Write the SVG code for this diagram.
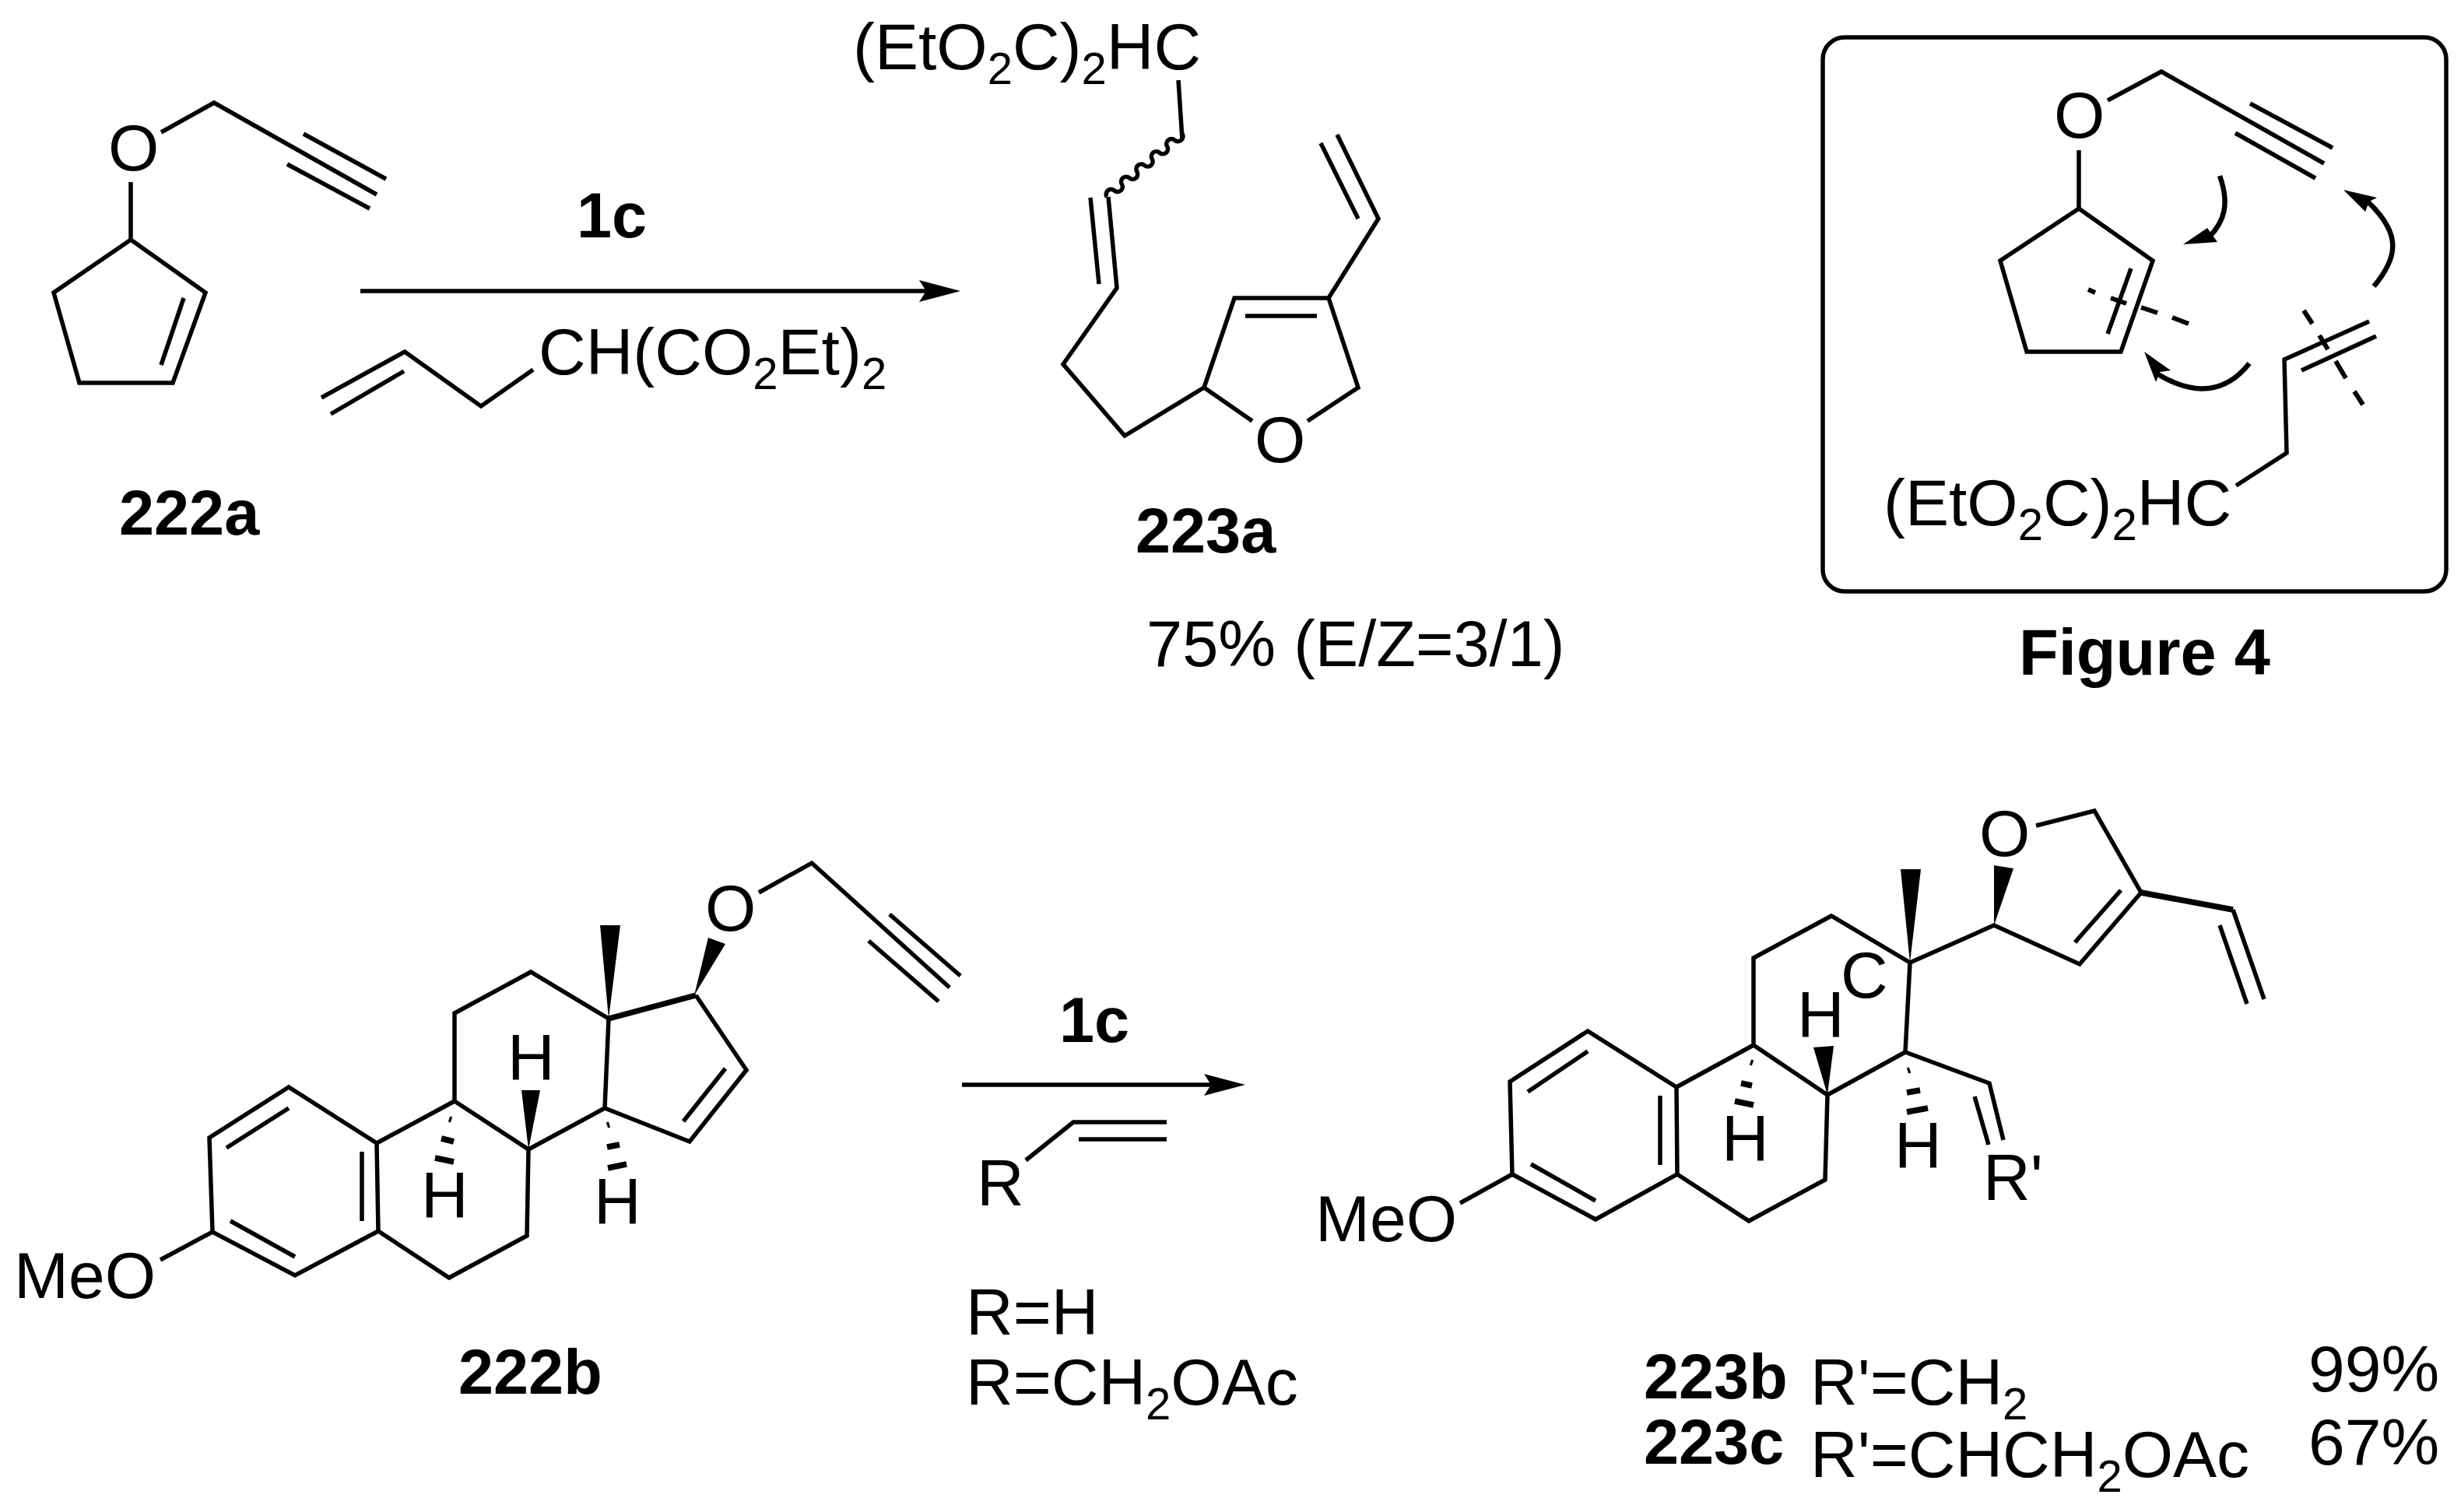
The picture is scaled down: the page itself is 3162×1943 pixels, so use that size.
<svg xmlns="http://www.w3.org/2000/svg" width="3162" height="1943" viewBox="0 0 3162 1943">
<style>
text{font-family:"Liberation Sans",Arial,sans-serif;font-size:84px;fill:#000}
.l{font-weight:bold;font-size:81px}
.fig{font-size:83px}
.s{font-size:58px}
path,line,polyline,polygon{stroke:#000;stroke-width:5.5;fill:none;stroke-miterlimit:10}
.f{fill:#000;stroke:none}
.h{stroke-width:6}
.k{stroke-width:7.5}
.c{stroke-width:6.5}
</style>
<defs>
<marker id="ah" markerUnits="userSpaceOnUse" markerWidth="60" markerHeight="32" refX="9" refY="16" orient="auto"><path class="f" d="M0 2L53 16L0 30L9 16z"/></marker>
</defs>
<rect width="3162" height="1943" fill="#fff"/>

<g id="connectors">
<line x1="463" y1="374" x2="1190" y2="374" marker-end="url(#ah)"/>
<line x1="1236" y1="1394" x2="1556" y2="1394" marker-end="url(#ah)"/>
<path class="c" d="M2852 226C2865 262 2858 285 2838 305"/>
<polygon class="f" points="2805,314 2836,293 2849,311"/>
<path class="c" d="M2890 467C2860 505 2820 510 2771 480"/>
<polygon class="f" points="2755,452 2770,491 2775,478 2789,476"/>
<path class="c" d="M3050 368C3082 330 3085 300 3043 260"/>
<polygon class="f" points="3011,244 3054,254 3044,259 3039,272"/>
</g>

<g id="m222a">
<text x="139" y="219">O</text>
<polyline points="207,170 275,132 484,250"/>
<line x1="390" y1="172" x2="496" y2="230"/>
<line x1="369" y1="211" x2="475" y2="268"/>
<line x1="168" y1="234" x2="168" y2="308"/>
<polygon points="168,308 264,376 222,492 102,492 69,376"/>
<line x1="236" y1="383" x2="207" y2="469"/>
<text class="l" x="153" y="687">222a</text>
</g>

<g id="reagent-1c-a"><text class="l" x="741" y="305">1c</text></g>

<g id="reagent-allyl">
<polyline points="413,511 520,452 618,522 685,475"/>
<line x1="425" y1="532" x2="519" y2="477"/>
<text x="692" y="481">CH(CO<tspan class="s" dy="19">2</tspan><tspan dy="-19">Et)</tspan><tspan class="s" dy="19">2</tspan></text>
</g>

<g id="m223a">
<text x="1096" y="89">(EtO<tspan class="s" dy="19">2</tspan><tspan dy="-19">C)</tspan><tspan class="s" dy="19">2</tspan><tspan dy="-19">HC</tspan></text>
<line x1="1514" y1="103" x2="1519" y2="179"/>
<path d="M1519 172a6.4 6.4 0 0 1 -9.7 8.1a6.4 6.4 0 0 0 -9.7 8.1a6.4 6.4 0 0 1 -9.7 8.1a6.4 6.4 0 0 0 -9.7 8.1a6.4 6.4 0 0 1 -9.7 8.1a6.4 6.4 0 0 0 -9.7 8.1a6.4 6.4 0 0 1 -9.7 8.1a6.4 6.4 0 0 0 -9.7 8.1a6.4 6.4 0 0 1 -9.7 8.1a6.4 6.4 0 0 0 -9.7 8.1"/>
<polyline points="1424,253 1435,370 1366,468 1445,560 1547,498 1609,541"/>
<line x1="1401" y1="254" x2="1412" y2="365"/>
<polyline points="1547,498 1586,383 1707,383 1745,498 1680,541"/>
<line x1="1600" y1="406" x2="1692" y2="406"/>
<polyline points="1707,383 1771,281 1718,173"/>
<line x1="1745" y1="281" x2="1697" y2="184"/>
<text x="1612" y="594">O</text>
<text class="l" x="1459" y="710">223a</text>
<text x="1473" y="856" style="font-size:83px">75% (E/Z=3/1)</text>
</g>

<g id="figure4">
<rect x="2342" y="48" width="801" height="712" rx="28" ry="28" fill="none" stroke="#000" stroke-width="5.5"/>
<text x="2639" y="177">O</text>
<polyline points="2708,129 2777,92 2986,210"/>
<line x1="2891" y1="133" x2="2997" y2="190"/>
<line x1="2872" y1="171" x2="2975" y2="229"/>
<line x1="2671" y1="193" x2="2671" y2="268"/>
<polygon points="2671,268 2766,335 2725,452 2604,452 2570,335"/>
<line x1="2738" y1="345" x2="2708" y2="429"/>
<line class="h" x1="2683" y1="372" x2="2692" y2="376"/>
<line class="h" x1="2712" y1="383" x2="2732" y2="390"/>
<line class="h" x1="2751" y1="395" x2="2772" y2="402"/>
<line class="h" x1="2791" y1="408" x2="2812" y2="416"/>
<polyline points="3044,413 2935,462 2938,582 2873,624"/>
<line x1="2957" y1="476" x2="3053" y2="432"/>
<line class="h" x1="2960" y1="399" x2="2971" y2="416"/>
<line class="h" x1="2980" y1="431" x2="2991" y2="449"/>
<line class="h" x1="3001" y1="464" x2="3014" y2="486"/>
<line class="h" x1="3025" y1="503" x2="3036" y2="520"/>
<text x="2420" y="675">(EtO<tspan class="s" dy="19">2</tspan><tspan dy="-19">C)</tspan><tspan class="s" dy="19">2</tspan><tspan dy="-19">HC</tspan></text>
<text class="l fig" x="2594" y="867">Figure 4</text>
</g>

<g id="m222b">
<polyline points="206,1619 273,1583 379,1639 486,1582 484,1469 371,1397 269,1462 273,1583"/>
<line x1="296" y1="1569" x2="379" y2="1615"/>
<line x1="465" y1="1480" x2="465" y2="1569"/>
<line x1="291" y1="1475" x2="371" y2="1424"/>
<polyline points="484,1469 584,1415 584,1302 682,1249 782,1309 777,1424 679,1477 584,1415"/>
<polyline points="679,1477 677,1588 577,1642 486,1582"/>
<line class="k" x1="782" y1="1309" x2="894" y2="1279"/>
<polyline points="894,1279 959,1375 886,1467 777,1424"/>
<line x1="932" y1="1373" x2="878" y2="1441"/>
<polygon class="f" points="782,1309 771,1189 797,1189"/>
<polygon class="f" points="892,1279 910,1205 932,1213"/>
<polygon class="f" points="679,1477 670,1401 694,1401"/>
<line class="k" x1="577" y1="1438" x2="580" y2="1439"/>
<line class="k" x1="567" y1="1463" x2="583" y2="1467"/>
<line class="k" x1="559" y1="1488" x2="583" y2="1493"/>
<line class="k" x1="780" y1="1446" x2="783" y2="1445"/>
<line class="k" x1="780" y1="1474" x2="796" y2="1471"/>
<line class="k" x1="781" y1="1501" x2="805" y2="1496"/>
<polyline points="975,1147 1043,1109 1220,1269"/>
<line x1="1143" y1="1175" x2="1234" y2="1254"/>
<line x1="1116" y1="1209" x2="1206" y2="1287"/>
<text x="906" y="1196">O</text>
<text x="652" y="1388">H</text>
<text x="541" y="1565">H</text>
<text x="763" y="1573">H</text>
<text x="18" y="1668">MeO</text>
<text class="l" x="589" y="1791">222b</text>
</g>

<g id="reagent-1c-b">
<text class="l" x="1361" y="1339">1c</text>
<polyline points="1318,1491 1379,1442 1499,1442"/>
<line x1="1386" y1="1464" x2="1499" y2="1464"/>
<text x="1255" y="1549">R</text>
<text x="1241" y="1715">R=H</text>
<text x="1241" y="1805">R=CH<tspan class="s" dy="19">2</tspan><tspan dy="-19">OAc</tspan></text>
</g>

<g id="m223bc">
<polyline points="1876,1546 1943,1509 2050,1567 2155,1509 2154,1397 2040,1325 1940,1390 1943,1509"/>
<line x1="1967" y1="1496" x2="2050" y2="1543"/>
<line x1="2133" y1="1408" x2="2133" y2="1497"/>
<line x1="1963" y1="1403" x2="2040" y2="1351"/>
<polyline points="2154,1397 2253,1343 2253,1231 2353,1177 2454,1237 2448,1352 2348,1407 2253,1343"/>
<polyline points="2348,1407 2345,1516 2247,1569 2155,1509"/>
<polyline points="2454,1237 2562,1189 2672,1239 2751,1147 2691,1042 2616,1061"/>
<line x1="2725" y1="1144" x2="2666" y2="1211"/>
<line class="k" x1="2751" y1="1147" x2="2869" y2="1169"/>
<line x1="2869" y1="1169" x2="2909" y2="1284"/>
<line x1="2852" y1="1189" x2="2887" y2="1290"/>
<polygon class="f" points="2454,1237 2442,1117 2468,1117"/>
<polygon class="f" points="2562,1189 2562,1112 2587,1116"/>
<polygon class="f" points="2348,1407 2330,1346 2356,1344"/>
<line class="k" x1="2249" y1="1365" x2="2252" y2="1366"/>
<line class="k" x1="2237" y1="1392" x2="2251" y2="1395"/>
<line class="k" x1="2229" y1="1415" x2="2253" y2="1420"/>
<line class="k" x1="2451" y1="1376" x2="2454" y2="1375"/>
<line class="k" x1="2450" y1="1404" x2="2467" y2="1401"/>
<line class="k" x1="2450" y1="1429" x2="2477" y2="1424"/>
<polyline points="2448,1352 2556,1392 2574,1465"/>
<line x1="2537" y1="1409" x2="2555" y2="1471"/>
<text x="2543" y="1100">O</text>
<text x="2365" y="1282">C</text>
<text x="2309" y="1333">H</text>
<text x="2212" y="1492">H</text>
<text x="2434" y="1501">H</text>
<text x="2548" y="1542">R'</text>
<text x="1690" y="1595">MeO</text>
</g>

<g id="labels-223bc">
<text class="l" x="2112" y="1797">223b</text>
<text class="l" x="2112" y="1881">223c</text>
<text x="2326" y="1805">R'=CH<tspan class="s" dy="19">2</tspan></text>
<text x="2326" y="1898">R'=CHCH<tspan class="s" dy="19">2</tspan><tspan dy="-19">OAc</tspan></text>
<text x="2966" y="1788">99%</text>
<text x="2966" y="1882">67%</text>
</g>
</svg>
